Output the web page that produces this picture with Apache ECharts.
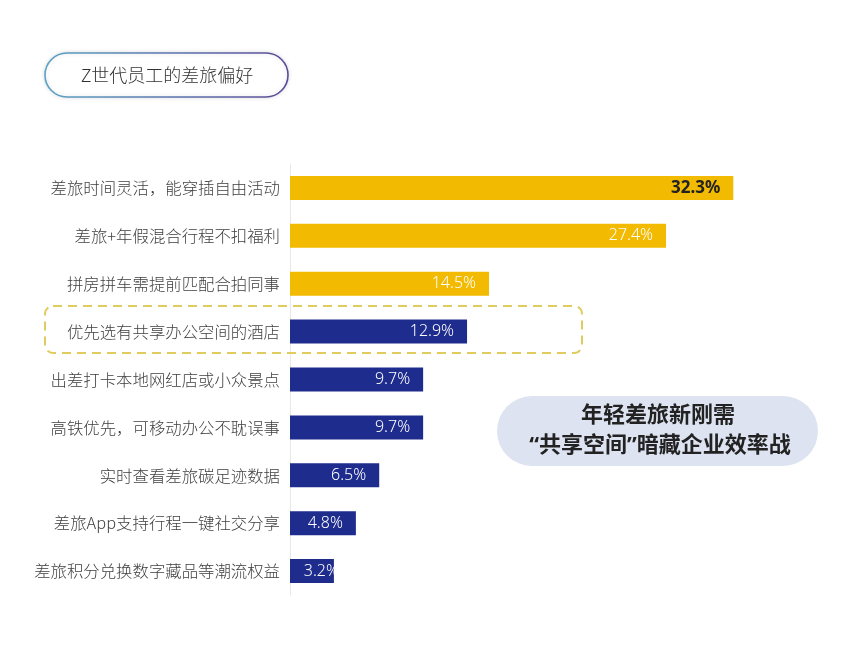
<!DOCTYPE html>
<html>
<head>
<meta charset="utf-8">
<script src="https://cdn.jsdelivr.net/npm/echarts@6/dist/echarts.min.js"></script>
<style>html,body{margin:0;padding:0;background:#fff}#c{width:841px;height:645px}</style>
</head>
<body>
<div id="c"></div>
<script>
const categories = [
  '差旅时间灵活，能穿插自由活动',
  '差旅+年假混合行程不扣福利',
  '拼房拼车需提前匹配合拍同事',
  '优先选有共享办公空间的酒店',
  '出差打卡本地网红店或小众景点',
  '高铁优先，可移动办公不耽误事',
  '实时查看差旅碳足迹数据',
  '差旅App支持行程一键社交分享',
  '差旅积分兑换数字藏品等潮流权益'
];
const values = [32.3, 27.4, 14.5, 12.9, 9.7, 9.7, 6.5, 4.8, 3.2];
const barColors = ['#F2BA00', '#F2BA00', '#F2BA00', '#1E2C8E', '#1E2C8E', '#1E2C8E', '#1E2C8E', '#1E2C8E', '#1E2C8E'];
const titleText = 'Z世代员工的差旅偏好';
const calloutLines = ['年轻差旅新刚需', '“共享空间”暗藏企业效率战'];

const chart = echarts.init(document.getElementById('c'), null, {renderer: 'canvas'});
const font = '"Noto Sans CJK SC", "Noto Sans", sans-serif';
const font2 = '"Noto Sans", "Noto Sans CJK SC", sans-serif';
chart.setOption({
  backgroundColor: '#fff',
  animation: false,
  grid: {left: 290, top: 164, width: 549, height: 431, containLabel: false},
  xAxis: {type: 'value', min: 0, max: 40, show: false},
  yAxis: {
    type: 'category', inverse: true, data: categories,
    axisLine: {show: true, lineStyle: {color: '#e8e8e8', width: 1}},
    axisTick: {show: false},
    axisLabel: {margin: 10, color: '#404040', fontSize: 16.4, fontWeight: 300, fontFamily: font}
  },
  series: [{
    type: 'bar', barWidth: 24,
    data: values.map((v, i) => ({
      value: v,
      itemStyle: {color: barColors[i]},
      label: i === 0 ? {color: '#222', fontWeight: 'bold', fontSize: 17}
           : (i === values.length - 1 ? {distance: -5} : {})
    })),
    label: {
      show: true, position: 'insideRight', distance: 13,
      formatter: p => p.value + '%',
      color: '#fff', fontSize: 16, fontWeight: 300, fontFamily: font2
    }
  }],
  graphic: [
    {type: 'rect', shape: {x: 45, y: 53, width: 243, height: 44, r: 22}, z: 10,
     style: {fill: '#fff', lineWidth: 1.6,
       stroke: {type: 'linear', x: 0, y: 0, x2: 1, y2: 0,
         colorStops: [{offset: 0, color: '#5aa3c4'}, {offset: 1, color: '#5c4a9a'}]},
       shadowBlur: 4, shadowColor: 'rgba(0,0,0,0.12)'}},
    {type: 'text', x: 167, y: 75, z: 11,
     style: {text: titleText, fill: '#333', fontSize: 18, fontWeight: 300, fontFamily: font, align: 'center', verticalAlign: 'middle'}},
    {type: 'rect', shape: {x: 45, y: 306, width: 537, height: 47, r: 8}, z: 5,
     style: {fill: 'none', stroke: '#E0CB5E', lineWidth: 2, lineDash: [9, 6]}},
    {type: 'rect', shape: {x: 497, y: 396, width: 321, height: 70, r: 35}, z: 10,
     style: {fill: '#DDE3F1'}},
    {type: 'text', x: 658, y: 416, z: 11,
     style: {text: calloutLines[0], fill: '#222', fontSize: 22, fontWeight: 'bold', fontFamily: font2, align: 'center', verticalAlign: 'middle'}},
    {type: 'text', x: 660, y: 446, z: 11,
     style: {text: calloutLines[1], fill: '#222', fontSize: 22, fontWeight: 'bold', fontFamily: font2, align: 'center', verticalAlign: 'middle'}}
  ]
});
</script>
</body>
</html>
